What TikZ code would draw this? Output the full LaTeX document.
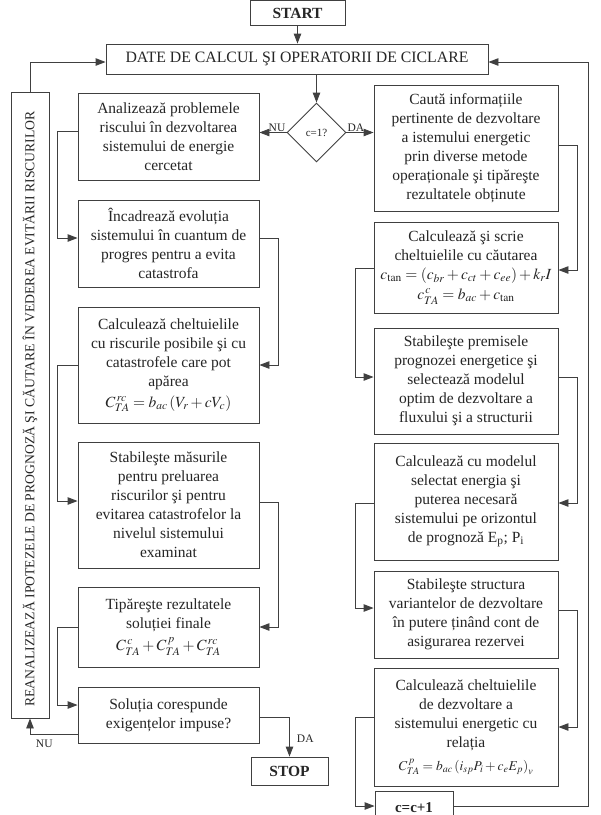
\documentclass[tikz,border=0pt]{standalone}
\usepackage{mathptmx}
\usepackage{fontspec}
\setmainfont{Liberation Serif}
\usetikzlibrary{arrows.meta,shapes.geometric,calc}
\begin{document}
\begin{tikzpicture}[x=1pt,y=-1pt,
  ink/.style={draw=black!75, line width=0.9pt},
  box/.style={ink, fill=white, align=center, inner sep=1pt, text=black!85,
    font=\fontsize{15.5}{19}\selectfont},
  arr/.style={ink, -{Triangle[length=10pt,width=7.5pt]}},
  lab/.style={font=\fontsize{11.5}{13}\selectfont, text=black!85, inner sep=1pt},
  lw/.style={minimum width=181pt},
  rw/.style={minimum width=184pt}
]
\useasboundingbox (0,0) rectangle (601,815);
\fill[white] (0,0) rectangle (601,815);

% top
\node[box, minimum width=95pt, minimum height=25pt, font=\fontsize{15.5}{18}\selectfont\bfseries] (START) at (297.5,13) {START};
\node[box, minimum width=382pt, minimum height=30pt, font=\fontsize{15.8}{19}\selectfont] (DATE) at (297,59) {DATE DE CALCUL ŞI OPERATORII DE CICLARE};
\node[ink, diamond, fill=white, minimum width=59pt, minimum height=59pt, inner sep=0pt, aspect=1, font=\fontsize{11}{13}\selectfont, text=black!85] (D) at (316.5,132.5) {c=1?};

% left column
\node[box, lw, minimum height=87pt] (L1) at (168.5,136.5) {Analizează problemele\\riscului în dezvoltarea\\sistemului de energie\\cercetat};
\node[box, lw, minimum height=87pt] (L2) at (168.5,243.5) {Încadrează evoluția\\sistemului în cuantum de\\progres pentru a evita\\catastrofa};
\node[box, lw, minimum height=116pt] (L3) at (168.5,365) {Calculează cheltuielile\\cu riscurile posibile şi cu\\catastrofele care pot\\apărea\\[2pt]$C^{\,rc}_{TA} = b_{ac}\left(V_r + cV_c\right)$};
\node[box, lw, minimum height=126pt] (L4) at (168.5,505) {Stabileşte măsurile\\pentru preluarea\\riscurilor şi pentru\\evitarea catastrofelor la\\nivelul sistemului\\examinat};
\node[box, lw, minimum height=80pt] (L5) at (168.5,627) {Tipăreşte rezultatele\\soluției finale\\[3pt]$C^{\,c}_{TA}+C^{\,p}_{TA}+C^{\,rc}_{TA}$};
\node[box, lw, minimum height=56pt] (L6) at (168.5,715) {Soluția corespunde\\exigențelor impuse?};
\node[box, minimum width=77pt, minimum height=28pt, font=\fontsize{15.5}{18}\selectfont\bfseries] (STOP) at (289.5,771) {STOP};

% side box
\node[box, minimum width=38pt, minimum height=626pt] (REAN) at (30,405) {};
\node[rotate=90, text=black!85, font=\fontsize{13.7}{16}\selectfont, inner sep=0pt] at ([yshift=-4pt]REAN.center) {REANALIZEAZĂ IPOTEZELE DE PROGNOZĂ ŞI CĂUTARE ÎN VEDEREA EVITĂRII RISCURILOR};

% right column
\node[box, rw, minimum height=126pt] (R1) at (466,148) {Caută informațiile\\pertinente de dezvoltare\\a istemului energetic\\prin diverse metode\\operaționale şi tipăreşte\\rezultatele obținute};
\node[box, rw, minimum height=91pt] (R2) at (466,267.5) {Calculează şi scrie\\cheltuielile cu căutarea\\$c_{\tan} = \left(c_{br}+c_{ct}+c_{ee}\right)+k_r I$\\[1pt]$c^{\,c}_{TA} = b_{ac} + c_{\tan}$};
\node[box, rw, minimum height=106pt] (R3) at (466,381) {Stabileşte premisele\\prognozei energetice şi\\selectează modelul\\optim de dezvoltare a\\fluxului şi a structurii};
\node[box, rw, minimum height=117pt] (R4) at (466,501.5) {Calculează cu modelul\\selectat energia şi\\puterea necesară\\sistemului pe orizontul\\de prognoză E\textsubscript{p}; P\textsubscript{i}};
\node[box, rw, minimum height=87pt] (R5) at (466,614.5) {Stabileşte structura\\variantelor de dezvoltare\\în putere ținând cont de\\asigurarea rezervei};
\node[box, rw, minimum height=118pt] (R6) at (466,727) {Calculează cheltuielile\\de dezvoltare a\\sistemului energetic cu\\relația\\[4pt]{\fontsize{13.5}{16}\selectfont$C^{\,p}_{TA} = b_{ac}\left(i_{sp}P_i + c_eE_p\right)_v$}};
\node[box, minimum width=78pt, minimum height=34pt, font=\fontsize{15}{18}\selectfont\bfseries] (CC) at (414,808) {c=c+1};

% connectors
\draw[arr] (START.south) -- (START.south |- DATE.north);
\draw[arr] (DATE.south -| D.north) -- (D.north);
\draw[arr] (D.west) -- (D.west -| L1.east);
\node[lab, anchor=south east] at (D.west) {NU};
\draw[arr] (D.east) -- (D.east -| R1.west);
\node[lab, anchor=south west] at (D.east) {DA};

\draw[arr] ([yshift=5.5pt]L1.west) -- ++(-20,0) |- ([yshift=5.5pt]L2.west);
\draw[arr] ([yshift=5.5pt]L2.east) -- ++(19,0) |- (L3.east);
\draw[arr] (L3.west) -- ++(-20,0) |- ([yshift=4pt]L4.west);
\draw[arr] ([yshift=3pt]L4.east) -- ++(19,0) |- (L5.east);
\draw[arr] (L5.west) -- ++(-20,0) |- ([yshift=10pt]L6.west);
\draw[arr] ([yshift=-2pt]L6.east) -| node[lab, pos=0.78, right=6pt] {DA} (STOP.north);
\draw[arr] ([yshift=-19pt]L6.west) -| node[lab, pos=0.35, below=5pt] {NU} (REAN.south);
\draw[arr] (REAN.north) |- ([yshift=-3pt]DATE.west);

\draw[arr] ([yshift=3pt]R1.east) -- ++(19,0) |- ([yshift=-2.5pt]R2.east);
\draw[arr] ([yshift=-0.5pt]R2.west) -- ++(-18,0) |- ([yshift=4pt]R3.west);
\draw[arr] ([yshift=4pt]R3.east) -- ++(19,0) |- ([yshift=-1.5pt]R4.east);
\draw[arr] ([yshift=-1.5pt]R4.west) -- ++(-18,0) |- ([yshift=6.5pt]R5.west);
\draw[arr] ([yshift=4.5pt]R5.east) -- ++(19,0) |- (R6.east);
\draw[arr] ([yshift=10pt]R6.west) -- ++(-18,0) |- ([yshift=2pt]CC.west);
\draw[arr] ([yshift=2pt]CC.east) -- ++(135,0) |- ([yshift=-3pt]DATE.east);
\end{tikzpicture}
\end{document}
